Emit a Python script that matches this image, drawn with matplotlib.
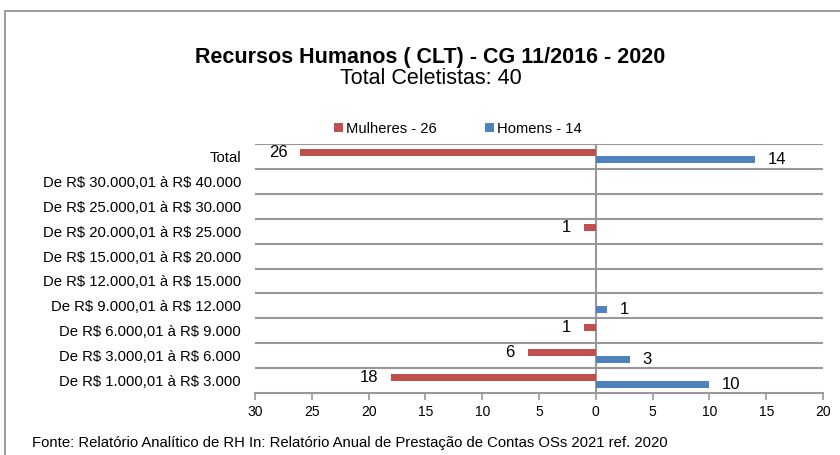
import matplotlib
matplotlib.use("Agg")
import matplotlib.pyplot as plt
from matplotlib.patches import Rectangle
import numpy as np

plt.rcParams['font.family'] = ['Liberation Sans', 'DejaVu Sans']
plt.rcParams['text.parse_math'] = False

categories = ["De R$ 1.000,01 à R$ 3.000", "De R$ 3.000,01 à R$ 6.000",
              "De R$ 6.000,01 à R$ 9.000", "De R$ 9.000,01 à R$ 12.000",
              "De R$ 12.000,01 à R$ 15.000", "De R$ 15.000,01 à R$ 20.000",
              "De R$ 20.000,01 à R$ 25.000", "De R$ 25.000,01 à R$ 30.000",
              "De R$ 30.000,01 à R$ 40.000", "Total"]
mulheres = [18, 6, 1, 0, 0, 0, 1, 0, 0, 26]
homens = [10, 3, 0, 1, 0, 0, 0, 0, 0, 14]
xticks = [-30, -25, -20, -15, -10, -5, 0, 5, 10, 15, 20]

red = '#C0504D'
blue = '#4F81BD'
grid = '#989898'

fig = plt.figure(figsize=(8.4, 4.55), dpi=100)
fig.patches.append(Rectangle((5/840, -0.1), 1.2, 1 - 11/455 + 0.1, transform=fig.transFigure,
                             fill=False, edgecolor='#8c8c8c', linewidth=1.2))
ax = fig.add_axes([255/840, 1 - 393/455, (823 - 255)/840, (393 - 144)/455])

y = np.arange(len(categories))
h = 0.28
ax.barh(y + h/2, [-v for v in mulheres], height=h, color=red, label='Mulheres - 26', zorder=3)
ax.barh(y - h/2, homens, height=h, color=blue, label='Homens - 14', zorder=3)

for i, v in enumerate(mulheres):
    if v:
        ax.text(-v - 1.15, i + h/2, str(v), ha='right', va='center', fontsize=12, zorder=4)
for i, v in enumerate(homens):
    if v:
        ax.text(v + 1.1, i - h/2, str(v), ha='left', va='center', fontsize=12, zorder=4)

ax.set_xlim(-30, 20)
ax.set_ylim(-0.5, len(categories) - 0.5)
for b in np.arange(-0.5, len(categories), 1.0)[1:]:
    ax.axhline(b, color=grid, linewidth=1.5, zorder=1)
ax.axvline(0, color=grid, linewidth=1.5, zorder=2)

ax.set_xticks(xticks)
ax.set_xticklabels([str(abs(t)) for t in xticks], fontsize=10)
ax.set_yticks(y)
ax.set_yticklabels(categories, fontsize=10.7)
ax.tick_params(axis='y', length=0, pad=10)
ax.tick_params(axis='x', direction='out', length=5, color=grid, width=1.2, pad=4)
for s in ['left', 'right', 'top']:
    ax.spines[s].set_visible(False)
ax.spines['bottom'].set_color(grid)
ax.spines['bottom'].set_linewidth(1.5)

fig.text(430/840, 1 - 63/455, 'Recursos Humanos ( CLT) - CG 11/2016 - 2020', ha='center', va='baseline',
         fontsize=15.5, fontweight='bold')
fig.text(431/840, 1 - 84/455, 'Total Celetistas: 40', ha='center', va='baseline', fontsize=15.5)

fig.legend(loc='center', bbox_to_anchor=(458/840, 1 - 129/455), ncol=2, frameon=False, fontsize=10.6,
           handlelength=0.6, handleheight=0.6, handletextpad=0.2, columnspacing=3.3)

fig.text(32/840, 1 - 443/455, 'Fonte: Relatório Analítico de RH In: Relatório Anual de Prestação de Contas OSs 2021 ref. 2020',
         ha='left', va='center', fontsize=10.7)

fig.savefig('out.png', dpi=100)
